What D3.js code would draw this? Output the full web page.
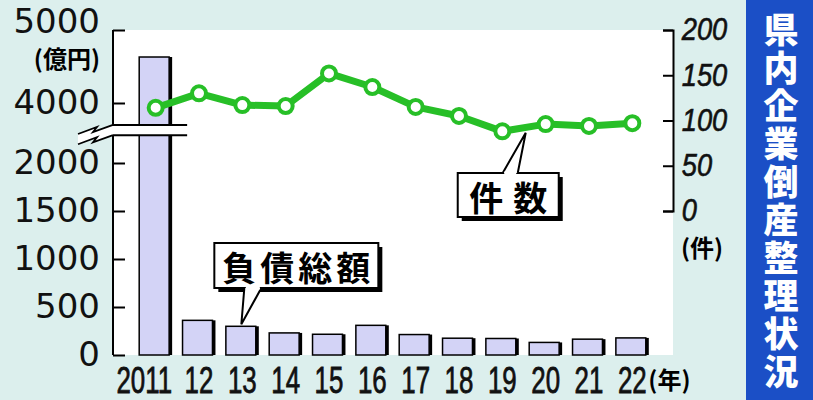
<!DOCTYPE html>
<html>
<head>
<meta charset="utf-8">
<script src="https://cdn.jsdelivr.net/npm/d3@7"></script>
<style>
  body { margin: 0; background: #dcefed; }
  svg { display: block; }
</style>
</head>
<body>
<div id="chart"></div>
<script>
/* DATA */
const years = ["2011", "12", "13", "14", "15", "16", "17", "18", "19", "20", "21", "22"];
// 負債総額 (億円)
const debt = [4630, 361, 299, 230, 216, 309, 213, 175, 172, 131, 165, 178];
// 件数 (件)
const cases = [114, 130, 117, 116, 152, 137, 115, 105, 88, 96, 94, 97];
const debtTicksLow = [0, 500, 1000, 1500, 2000];
const debtTicksHigh = [4000, 5000];
const caseTicks = [0, 50, 100, 150, 200];
const title = "県内企業倒産整理状況";

/* LAYOUT */
const width = 813, height = 400;
const plot = { left: 113, right: 673, top: 30, bottom: 355 };
const green = "#27bf27";
const jp = "'Noto Sans CJK JP', sans-serif";

const svg = d3.select("#chart").append("svg")
  .attr("width", width)
  .attr("height", height);

svg.append("rect").attr("width", width).attr("height", height).attr("fill", "#dcefed");
svg.append("rect")
  .attr("x", plot.left).attr("y", plot.top)
  .attr("width", plot.right - plot.left).attr("height", plot.bottom - plot.top)
  .attr("fill", "#fff");

/* SCALES */
const x = d3.scaleBand().domain(years)
  .range([plot.left + 21, plot.right - 19])
  .paddingInner(0.24).paddingOuter(0.12);
const bw = x.bandwidth();

// broken left axis: two linear pieces
const yLow = d3.scaleLinear().domain([0, 2000]).range([plot.bottom, 163]);
const yHigh = d3.scaleLinear().domain([4000, 5000]).range([103, plot.top]);
const yBar = v => v > 2000 ? yHigh(v) : yLow(v);
const breakTop = yHigh(3700), breakBot = yLow(2290);

const yR = d3.scaleLinear().domain([0, 200]).range([211, plot.top]);

/* BARS */
const bars = svg.append("g");
bars.selectAll(".shadow")
  .data(debt)
  .join("rect")
  .attr("class", "shadow")
  .attr("x", (d, i) => x(years[i]) + 3)
  .attr("y", d => yBar(d))
  .attr("width", bw - 3)
  .attr("height", d => plot.bottom - yBar(d))
  .attr("fill", "#000");
bars.selectAll(".bar")
  .data(debt)
  .join("rect")
  .attr("class", "bar")
  .attr("x", (d, i) => x(years[i]))
  .attr("y", d => yBar(d))
  .attr("width", bw - 3)
  .attr("height", d => plot.bottom - yBar(d))
  .attr("fill", "#d3d3f6")
  .attr("stroke", "#000")
  .attr("stroke-width", 1.5);

/* LEFT AXIS */
function styleLeft(g) {
  g.select(".domain").remove();
  g.selectAll("line").attr("stroke", "#000").attr("stroke-width", 2);
  g.selectAll("text")
    .attr("font-family", "'DejaVu Sans', sans-serif")
    .attr("font-size", 34)
    .attr("fill", "#111");
}
svg.append("g")
  .attr("transform", `translate(${plot.left},0)`)
  .call(d3.axisLeft(yLow).tickValues(debtTicksLow).tickFormat(d3.format("d"))
    .tickSize(-12).tickPadding(13))
  .call(styleLeft);
const hi = svg.append("g")
  .attr("transform", `translate(${plot.left},0)`)
  .call(d3.axisLeft(yHigh).tickValues(debtTicksHigh).tickFormat(d3.format("d"))
    .tickSize(-12).tickPadding(13))
  .call(styleLeft);
hi.selectAll("text").filter(d => d === 5000).attr("dy", "0.08em");

svg.append("text")
  .attr("x", 100).attr("y", 57)
  .attr("text-anchor", "end").attr("dominant-baseline", "central")
  .attr("font-family", jp).attr("font-weight", 700).attr("font-size", 24)
  .text("(億円)");

// axis line in two pieces
svg.append("line").attr("x1", plot.left).attr("x2", plot.left)
  .attr("y1", plot.top).attr("y2", breakTop)
  .attr("stroke", "#000").attr("stroke-width", 2);
svg.append("line").attr("x1", plot.left).attr("x2", plot.left)
  .attr("y1", breakBot).attr("y2", plot.bottom)
  .attr("stroke", "#000").attr("stroke-width", 2);

// break mark across the tall bar
const breakRight = x(years[0]) + bw + 15;
svg.append("rect")
  .attr("x", plot.left - 1).attr("y", breakTop)
  .attr("width", breakRight - plot.left + 1).attr("height", breakBot - breakTop)
  .attr("fill", "#fff");
[breakTop, breakBot].forEach(yy => {
  svg.append("line").attr("x1", plot.left).attr("x2", breakRight)
    .attr("y1", yy).attr("y2", yy)
    .attr("stroke", "#000").attr("stroke-width", 2);
});
const zz = d3.line();
const zig = dy => [[78, 134 + dy], [97, 127 + dy], [93, 132 + dy], [plot.left, breakTop + dy]];
svg.append("path")
  .attr("d", zz(zig(0).concat(zig(breakBot - breakTop).reverse())) + "Z")
  .attr("fill", "#fff").attr("stroke", "none");
[0, breakBot - breakTop].forEach(dy => {
  svg.append("path").attr("d", zz(zig(dy)))
    .attr("fill", "none").attr("stroke", "#000").attr("stroke-width", 1.8);
});

/* RIGHT AXIS */
const right = svg.append("g")
  .attr("transform", `translate(${plot.right},0)`)
  .call(d3.axisRight(yR).tickValues(caseTicks).tickSizeInner(-10).tickSizeOuter(-10).tickPadding(10));
right.select(".domain").attr("stroke", "#000").attr("stroke-width", 2);
right.selectAll("line").attr("stroke", "#000").attr("stroke-width", 2);
right.selectAll("text")
  .attr("font-family", "'Liberation Sans', sans-serif")
  .attr("font-style", "italic")
  .attr("font-size", 31)
  .attr("fill", "#111")
  .attr("stroke", "#111")
  .attr("stroke-width", 0.6)
  .attr("transform", "scale(0.88,1)");

svg.append("text")
  .attr("x", 681).attr("y", 246)
  .attr("dominant-baseline", "central")
  .attr("font-family", jp).attr("font-weight", 700).attr("font-size", 24)
  .text("(件)");

/* X LABELS */
svg.selectAll(".xlab")
  .data(years)
  .join("text")
  .attr("class", "xlab")
  .attr("transform", (d, i) => i === 0
    ? `translate(${x(d) + bw},393) scale(0.7,1)`
    : `translate(${x(d) + bw / 2},393) scale(0.7,1)`)
  .attr("text-anchor", (d, i) => i === 0 ? "end" : "middle")
  .attr("font-family", "'Liberation Sans', sans-serif")
  .attr("font-size", 37)
  .attr("fill", "#111")
  .attr("stroke", "#111")
  .attr("stroke-width", 0.8)
  .text(d => d);
svg.append("text")
  .attr("x", x(years[years.length - 1]) + bw / 2 + 16).attr("y", 378)
  .attr("dominant-baseline", "central")
  .attr("font-family", jp).attr("font-weight", 700).attr("font-size", 24)
  .text("(年)");

/* LINE */
const line = d3.line()
  .x((d, i) => x(years[i]) + bw / 2)
  .y(d => yR(d));
svg.append("path")
  .datum(cases)
  .attr("d", line)
  .attr("fill", "none")
  .attr("stroke", green)
  .attr("stroke-width", 7)
  .attr("stroke-linejoin", "round");
svg.selectAll(".dot")
  .data(cases)
  .join("circle")
  .attr("class", "dot")
  .attr("cx", (d, i) => x(years[i]) + bw / 2)
  .attr("cy", d => yR(d))
  .attr("r", 7)
  .attr("fill", "#fff")
  .attr("stroke", green)
  .attr("stroke-width", 4);

/* CALLOUTS */
function callout(ax, ay, bx, by, bwid, bht, p1, p2, label, spacing) {
  const g = svg.append("g");
  // shadow
  g.append("rect")
    .attr("x", bx + 4).attr("y", by + 4)
    .attr("width", bwid).attr("height", bht)
    .attr("fill", "#000");
  g.append("rect")
    .attr("x", bx).attr("y", by)
    .attr("width", bwid).attr("height", bht)
    .attr("fill", "#fff").attr("stroke", "#000").attr("stroke-width", 2);
  const edge = ay > by ? by + bht : by;
  g.append("path")
    .attr("d", `M${p1},${edge}L${ax},${ay}L${p2},${edge}`)
    .attr("fill", "#fff").attr("stroke", "#000").attr("stroke-width", 2);
  g.append("line")
    .attr("x1", p1 + 1.5).attr("x2", p2 - 1.5)
    .attr("y1", edge).attr("y2", edge)
    .attr("stroke", "#fff").attr("stroke-width", 3);
  g.append("text")
    .attr("x", bx + bwid / 2 + spacing / 2).attr("y", by + bht / 2 + 1)
    .attr("text-anchor", "middle").attr("dominant-baseline", "central")
    .attr("font-family", jp).attr("font-weight", 700).attr("font-size", 34)
    .attr("letter-spacing", spacing)
    .text(label);
}

// 負債総額 -> 2013 bar
const ax1 = x(years[2]) + bw / 2 - 1, ay1 = yBar(debt[2]) - 2;
callout(ax1, ay1, ax1 - 27, 243, 164, 45, ax1 + 3, ax1 + 20, "負債総額", 4);

// 件数 -> segment between 2019 and 2020
const ax2 = x(years[8]) + bw / 2 + x.step() * 0.54;
const ay2 = (yR(cases[8]) + yR(cases[9])) / 2 + 5;
callout(ax2, ay2, ax2 - 68, 173, 101, 44, ax2 - 23, ax2 - 8, "件数", 10);

/* TITLE */
svg.append("rect")
  .attr("x", 746).attr("y", 0)
  .attr("width", width - 746).attr("height", height)
  .attr("fill", "#1b4fc6");
svg.append("text")
  .attr("x", 781).attr("y", 12)
  .attr("writing-mode", "vertical-rl")
  .attr("font-family", jp).attr("font-weight", 900).attr("font-size", 35)
  .attr("letter-spacing", 3)
  .attr("fill", "#fff")
  .text(title);
</script>
</body>
</html>
